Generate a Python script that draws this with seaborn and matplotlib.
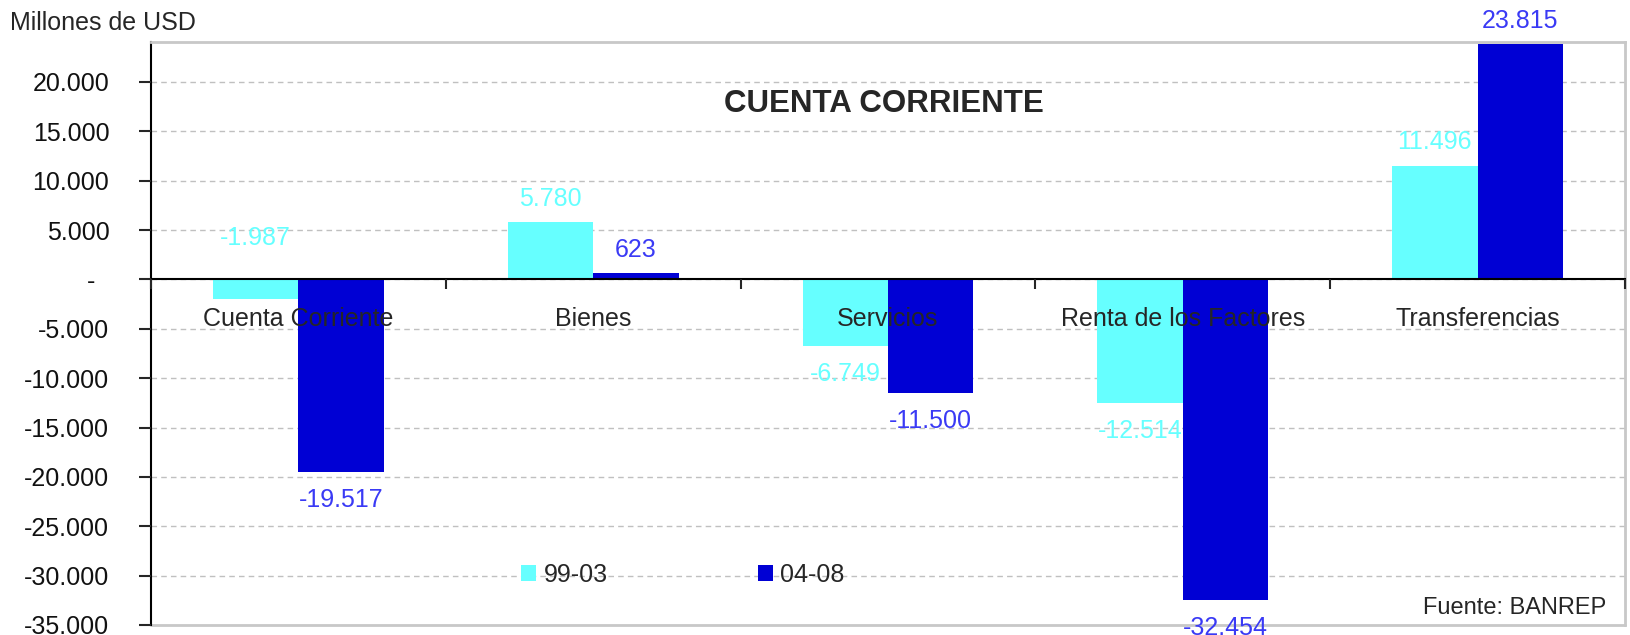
import numpy as np
import pandas as pd
import matplotlib
matplotlib.use("Agg")
import matplotlib.pyplot as plt
import seaborn as sns
from matplotlib.ticker import FuncFormatter

# Datos (millones de USD)
categorias = ["Cuenta Corriente", "Bienes", "Servicios", "Renta de los Factores", "Transferencias"]
periodos = ["99-03", "04-08"]
valores_99_03 = [-1987, 5780, -6749, -12514, 11496]
valores_04_08 = [-19517, 623, -11500, -32454, 23815]

colores = ["#66FFFF", "#0000D4"]
colores_texto = ["#66FFFF", "#3A3AF5"]

df = pd.DataFrame({
    "categoria": categorias * 2,
    "valor": valores_99_03 + valores_04_08,
    "periodo": [periodos[0]] * len(categorias) + [periodos[1]] * len(categorias),
})


def miles(v):
    return f"{v:,.0f}".replace(",", ".")


sns.set_style("white")
plt.rcParams["font.family"] = ["Liberation Sans", "DejaVu Sans"]

fig = plt.figure(figsize=(16.3, 6.35), dpi=100)
ax = fig.add_axes([151 / 1630, 10 / 635, 1474 / 1630, 583 / 635])

sns.barplot(data=df, x="categoria", y="valor", hue="periodo", palette=colores,
            width=0.58, errorbar=None, saturation=1, linewidth=0, ax=ax)

ax.set_ylim(-35000, 24050)
yticks = np.arange(-35000, 20001, 5000)
ax.set_yticks(yticks)
ax.yaxis.set_major_formatter(FuncFormatter(lambda v, p: "-  " if v == 0 else miles(v)))
for t in yticks[1:]:
    ax.axhline(t, color="#C0C0C0", lw=1, ls=(0, (4, 3)), zorder=0.5)

ax.set_xlabel("")
ax.set_ylabel("")
ax.set_axisbelow(False)  # nombres de categorias por encima de las barras

# marco
ax.spines["left"].set_color("black")
ax.spines["left"].set_linewidth(1.5)
for s in ["top", "right"]:
    ax.spines[s].set_color("#C8C8C8")
    ax.spines[s].set_linewidth(2)
ax.spines["bottom"].set_position(("data", 0))
ax.spines["bottom"].set_color("black")
ax.spines["bottom"].set_linewidth(1.5)
ax.axhline(-35000, color="#C8C8C8", lw=2, clip_on=False, zorder=0.6)

ax.tick_params(axis="y", left=True, length=9, width=1.5, pad=21, labelsize=18, labelcolor="#111111")
ax.tick_params(axis="x", which="major", bottom=True, length=0, pad=20, labelsize=18)
ax.set_xticks(np.arange(-0.5, len(categorias), 1), minor=True)
ax.tick_params(axis="x", which="minor", bottom=True, length=7, width=1.5, direction="out")

# etiquetas de datos
for cont, col, vals in zip(ax.containers, colores_texto, [valores_99_03, valores_04_08]):
    for i, (p, v) in enumerate(zip(cont, vals)):
        xc = p.get_x() + p.get_width() / 2
        if vals is valores_99_03 and i == 0:
            ax.annotate(miles(v), (xc, 0), xytext=(0, 30), textcoords="offset points",
                        ha="center", va="center", color=col, fontsize=18)
        elif v >= 0:
            ax.annotate(miles(v), (xc, v), xytext=(0, 17), textcoords="offset points",
                        ha="center", va="center", color=col, fontsize=18,
                        annotation_clip=False)
        else:
            ax.annotate(miles(v), (xc, v), xytext=(0, -20), textcoords="offset points",
                        ha="center", va="center", color=col, fontsize=18,
                        annotation_clip=False)

sns.move_legend(ax, "center", bbox_to_anchor=(0.361, 0.0858), ncol=2, frameon=False,
                title=None, fontsize=18, handlelength=0.6, handleheight=0.6,
                handletextpad=0.3, columnspacing=6)

fig.text(10 / 1630, 1 - 23 / 635, "Millones de USD", ha="left", va="center", fontsize=18)
fig.text(884 / 1630, 1 - 104 / 635, "CUENTA CORRIENTE", ha="center", va="center",
         fontsize=22.5, fontweight="bold")
fig.text(1606 / 1630, 1 - 608 / 635, "Fuente: BANREP", ha="right", va="center", fontsize=17)

fig.savefig("out.png", dpi=100)
